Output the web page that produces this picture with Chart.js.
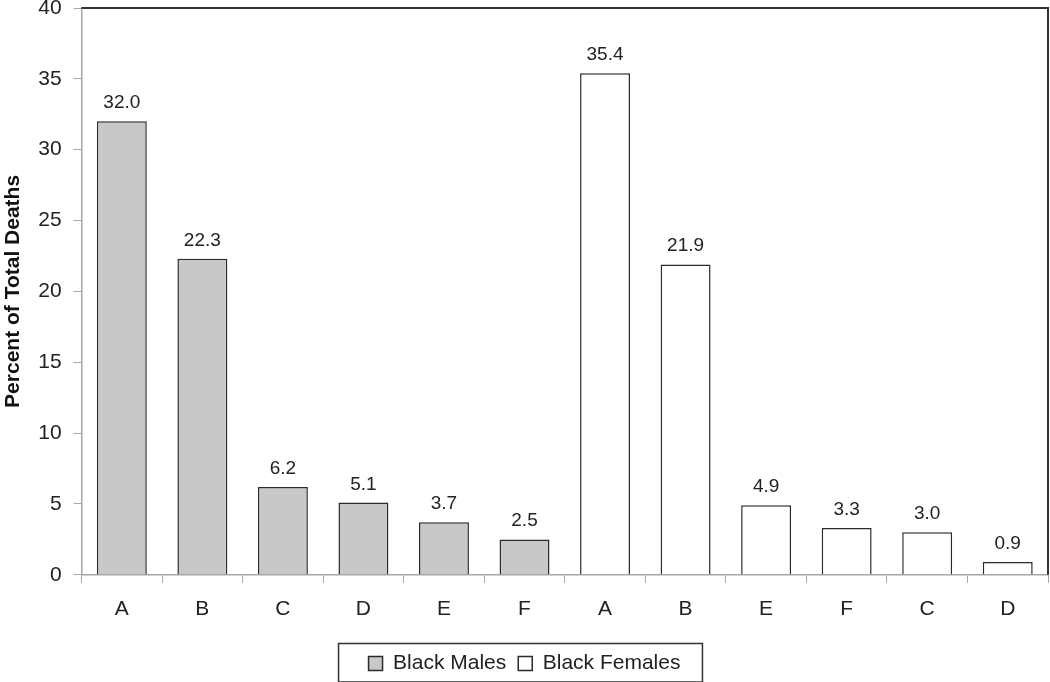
<!DOCTYPE html>
<html>
<head>
<meta charset="utf-8">
<script src="https://cdn.jsdelivr.net/npm/chart.js@4"></script>
<style>
  html, body { margin: 0; padding: 0; background: #fff; }
  #wrap { width: 1050px; height: 682px; }
</style>
</head>
<body>
<div id="wrap"><canvas id="myChart" width="1050" height="682"></canvas></div>
<script>
// categories along the x axis (males first, then females)
var categories = ['A', 'B', 'C', 'D', 'E', 'F', 'A', 'B', 'E', 'F', 'C', 'D'];
var maleValues = [32.0, 22.3, 6.2, 5.1, 3.7, 2.5, null, null, null, null, null, null];
var femaleValues = [null, null, null, null, null, null, 35.4, 21.9, 4.9, 3.3, 3.0, 0.9];
var yTicks = [0, 5, 10, 15, 20, 25, 30, 35, 40];

var fontFam = '"Liberation Sans", Arial, sans-serif';

// labels on top of the bars + frame of plot + frame of legend
var extras = {
    id: 'extras',
    afterDatasetsDraw: function(chart) {
        var ctx = chart.ctx;
        ctx.save();
        ctx.font = '19px ' + fontFam;
        ctx.fillStyle = '#222';
        ctx.textAlign = 'center';
        ctx.textBaseline = 'alphabetic';
        chart.data.datasets.forEach(function(ds, i) {
            var meta = chart.getDatasetMeta(i);
            meta.data.forEach(function(bar, j) {
                if (ds.data[j] == null) return;
                ctx.fillText(ds.data[j].toFixed(1), bar.x, bar.y - 13);
            });
        });
        var a = chart.chartArea;
        ctx.strokeStyle = '#333';
        ctx.lineWidth = 2;
        ctx.beginPath();
        ctx.moveTo(a.left, a.top);
        ctx.lineTo(a.right, a.top);
        ctx.lineTo(a.right, a.bottom);
        ctx.stroke();

        var boxes = chart.legend.legendHitBoxes;
        if (boxes && boxes.length) {
            var l = Math.min.apply(null, boxes.map(function(b) { return b.left; }));
            var r = Math.max.apply(null, boxes.map(function(b) { return b.left + b.width; }));
            var t = boxes[0].top;
            var h = boxes[0].height;
            ctx.strokeStyle = '#333';
            ctx.lineWidth = 1.5;
            ctx.strokeRect(l - 30, t + h / 2 - 20, (r - l) + 52, 38.5);
        }
        ctx.restore();
    }
};

var ctx = document.getElementById('myChart').getContext('2d');
var chart = new Chart(ctx, {
    type: 'bar',
    data: {
        labels: categories,
        datasets: [{
            label: 'Black Males',
            data: maleValues,
            backgroundColor: '#c8c8c8',
            borderColor: '#2a2a2a',
            borderWidth: 1.5,
            skipNull: true
        }, {
            label: 'Black Females',
            data: femaleValues,
            backgroundColor: '#ffffff',
            borderColor: '#2a2a2a',
            borderWidth: 1.5,
            skipNull: true
        }]
    },
    options: {
        responsive: false,
        animation: false,
        devicePixelRatio: 1,
        layout: { padding: { top: 8, right: 2, left: 1, bottom: -2 } },
        datasets: {
            bar: { categoryPercentage: 1.0, barPercentage: 0.62 }
        },
        scales: {
            x: {
                offset: true,
                grid: {
                    offset: true,
                    drawOnChartArea: false,
                    drawTicks: true,
                    tickLength: 8,
                    color: '#a6a6a6'
                },
                border: { color: '#a6a6a6', width: 1.5 },
                ticks: {
                    color: '#222',
                    padding: 14,
                    font: { family: fontFam, size: 21 }
                },
                afterFit: function(axis) { axis.height += 5; }
            },
            y: {
                min: 0,
                max: 40,
                afterBuildTicks: function(axis) {
                    axis.ticks = yTicks.map(function(v) { return { value: v }; });
                },
                afterFit: function(axis) {
                    axis.paddingTop = 0;
                    axis.paddingBottom = 0;
                },
                grid: {
                    drawOnChartArea: false,
                    tickLength: 8,
                    color: '#a6a6a6'
                },
                border: { color: '#a6a6a6', width: 1.5 },
                ticks: {
                    color: '#222',
                    padding: 12,
                    font: { family: fontFam, size: 21 }
                },
                title: {
                    display: true,
                    text: 'Percent of Total Deaths',
                    color: '#111',
                    padding: { top: 0, bottom: 0 },
                    font: { family: fontFam, size: 21, weight: 'bold' }
                }
            }
        },
        plugins: {
            legend: {
                position: 'bottom',
                labels: {
                    color: '#222',
                    boxWidth: 14,
                    boxHeight: 14,
                    padding: 12,
                    font: { family: fontFam, size: 21 }
                }
            },
            tooltip: { enabled: false }
        }
    },
    plugins: [extras]
});
</script>
</body>
</html>
